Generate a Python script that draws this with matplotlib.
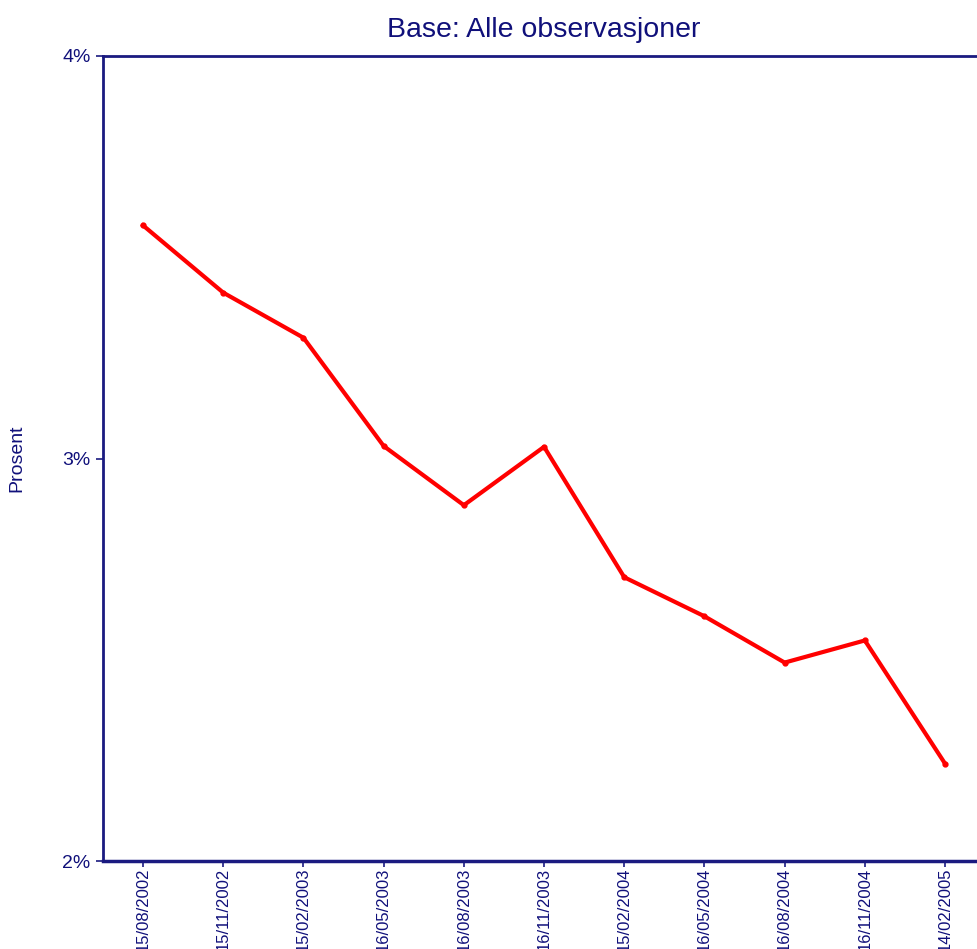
import matplotlib.pyplot as plt
from matplotlib.ticker import FuncFormatter

plt.rcParams['font.family'] = ['Liberation Sans', 'DejaVu Sans']

# datoer og verdier (prosent)
datoer = ['15/08/2002', '15/11/2002', '15/02/2003', '16/05/2003', '16/08/2003',
          '16/11/2003', '15/02/2004', '16/05/2004', '16/08/2004', '16/11/2004',
          '14/02/2005']
verdier = [3.579, 3.412, 3.300, 3.031, 2.884, 3.029, 2.705, 2.608, 2.493, 2.548, 2.242]

navy = '#1a1a80'
tekst = '#10107a'

fig = plt.figure(figsize=(9.78, 9.49), dpi=100)
ax = fig.add_axes([0.1053, 0.0927, 0.902, 0.8483])

x = list(range(len(datoer)))
ax.plot(x, verdier, color='#ff0000', lw=3, marker='o', markersize=3.5,
        solid_joinstyle='round')

ax.set_xlim(-0.5, 10.5)
ax.set_ylim(2, 4)
ax.set_yticks([2, 3, 4])
ax.yaxis.set_major_formatter(FuncFormatter(lambda v, p: f'{v:.0f}%'))
ax.set_xticks(x)
ax.set_xticklabels(datoer, rotation=90, fontsize=12, color=tekst)
ax.tick_params(axis='y', labelsize=14, colors=tekst, length=5, width=1.2, color=navy, pad=4)
ax.tick_params(axis='x', length=4, width=1.2, color=navy, pad=1)

for s in ['left', 'top']:
    ax.spines[s].set_color(navy)
    ax.spines[s].set_linewidth(2)
ax.spines['bottom'].set_color(navy)
ax.spines['bottom'].set_linewidth(2.5)
ax.spines['right'].set_visible(False)

ax.set_ylabel('Prosent', fontsize=14, color=tekst)
ax.yaxis.set_label_coords(-0.088, 0.5)
ax.set_title('Base: Alle observasjoner', fontsize=20.5, color=tekst, pad=14)

fig.savefig('out.png', dpi=100)
